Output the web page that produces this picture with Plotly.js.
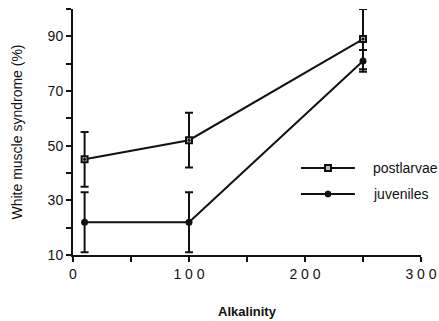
<!DOCTYPE html>
<html><head><meta charset="utf-8">
<script src="https://cdn.plot.ly/plotly-3.0.1.min.js"></script>
<style>body{margin:0;background:#fff}#c{width:439px;height:321px}</style>
</head><body><div id="c"></div>
<script>
const alkalinity = [10, 100, 250];
const postlarvae = [45, 52, 89];
const postlarvaeErr = [10, 10, 11];
const juveniles = [22, 22, 81];
const juvenilesErr = [11, 11, 4];
const seriesNames = ['postlarvae', 'juveniles'];
const yTickVals = [10,20,30,40,50,60,70,80,90,100];
const yTickText = ['10','','30','','50','','70','','90',''];
const xTickVals = [0,50,100,150,200,250,300];
const xTickText = ['0','','1 0 0','','2 0 0','','3 0 0'];

const font = 'Liberation Sans, Arial, sans-serif';
const ink = '#111';
const traces = [
  {x: alkalinity, y: postlarvae, name: seriesNames[0], mode: 'lines+markers',
   line: {color: ink, width: 2},
   marker: {symbol: 'square-dot', size: 6, color: '#bbb', line: {color: ink, width: 2}},
   error_y: {type: 'data', array: postlarvaeErr, visible: true, color: ink, thickness: 2, width: 4}},
  {x: alkalinity, y: juveniles, name: seriesNames[1], mode: 'lines+markers',
   line: {color: ink, width: 2},
   marker: {symbol: 'circle', size: 7, color: ink},
   error_y: {type: 'data', array: juvenilesErr, visible: true, color: ink, thickness: 2, width: 4}}
];

// hand-placed legend (plot-area fractions)
const legY = [0.354, 0.248];
const shapes = [], annotations = [];
legY.forEach((ly, i) => {
  shapes.push({type: 'line', xref: 'paper', yref: 'paper', x0: 0.655, x1: 0.810, y0: ly, y1: ly,
               line: {color: ink, width: 2}});
  shapes.push({type: i === 0 ? 'rect' : 'circle', xref: 'paper', yref: 'paper',
               xsizemode: 'pixel', ysizemode: 'pixel', xanchor: 0.7327, yanchor: ly,
               x0: -3, x1: 3, y0: -3, y1: 3,
               fillcolor: i === 0 ? '#bbb' : ink, line: {color: ink, width: i === 0 ? 2 : 1}});
  annotations.push({xref: 'paper', yref: 'paper', x: 0.856, y: ly, xanchor: 'left', yanchor: 'middle',
                    text: seriesNames[i], showarrow: false, font: {size: 14, color: ink}});
});

const layout = {
  width: 439, height: 321,
  margin: {l: 73, r: 18, t: 9, b: 66},
  paper_bgcolor: '#fff', plot_bgcolor: '#fff',
  font: {family: font, size: 14, color: ink},
  showlegend: false,
  shapes: shapes, annotations: annotations,
  xaxis: {range: [0, 300], tickvals: xTickVals, ticktext: xTickText, ticks: 'outside', automargin: false,
          ticklen: 5, tickwidth: 2, tickcolor: ink, showline: true, linewidth: 2, linecolor: ink,
          showgrid: false, zeroline: false, tickfont: {size: 14},
          title: {text: '<b>Alkalinity</b>', font: {size: 13}, standoff: 26}},
  yaxis: {range: [10, 100], tickvals: yTickVals, ticktext: yTickText, ticks: 'outside', automargin: false,
          ticklen: 5, tickwidth: 2, tickcolor: ink, showline: true, linewidth: 2, linecolor: ink,
          showgrid: false, zeroline: false, tickfont: {size: 14},
          title: {text: 'White muscle syndrome (%)', font: {size: 14}, standoff: 22}}
};
Plotly.newPlot('c', traces, layout, {staticPlot: true});
</script></body></html>
